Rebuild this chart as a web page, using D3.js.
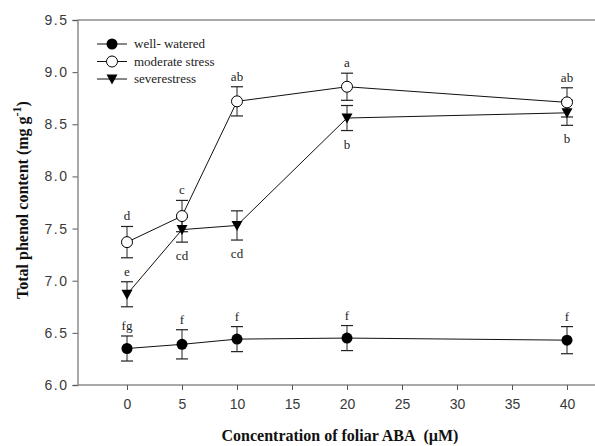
<!DOCTYPE html>
<html>
<head>
<meta charset="utf-8">
<script src="https://cdn.jsdelivr.net/npm/d3@7"></script>
<style>
  body { margin: 0; background: #fff; }
  svg { display: block; }
</style>
</head>
<body>
<svg id="chart"></svg>
<script>
// concentration of foliar ABA (uM)
const conc = [0, 5, 10, 20, 40]

const wellWatered = [6.35, 6.39, 6.44, 6.45, 6.43]
const wellErr = [0.12, 0.14, 0.12, 0.12, 0.13]
const wellLetters = ['fg', 'f', 'f', 'f', 'f']

const moderate = [7.37, 7.62, 8.72, 8.86, 8.71]
const moderateErr = [0.15, 0.15, 0.14, 0.13, 0.14]
const moderateLetters = ['d', 'c', 'ab', 'a', 'ab']

const severe = [6.87, 7.49, 7.53, 8.56, 8.61]
const severeErr = [0.12, 0.12, 0.14, 0.12, 0.12]
const severeLetters = ['e', 'cd', 'cd', 'b', 'b']
const severeLetterSide = ['up', 'down', 'down', 'down', 'down']

const xTicks = [0, 5, 10, 15, 20, 25, 30, 35, 40]
const yTicks = [6.0, 6.5, 7.0, 7.5, 8.0, 8.5, 9.0, 9.5]

const series = [
  { name: 'well- watered', values: wellWatered, err: wellErr, letters: wellLetters, side: conc.map(() => 'up'), marker: 'filled' },
  { name: 'moderate stress', values: moderate, err: moderateErr, letters: moderateLetters, side: conc.map(() => 'up'), marker: 'open' },
  { name: 'severestress', values: severe, err: severeErr, letters: severeLetters, side: severeLetterSide, marker: 'triangle' }
]

const W = 595
const H = 446
const serif = '"Liberation Serif", "Times New Roman", serif'
const sans = '"Liberation Sans", Arial, sans-serif'
const axisGray = '#8c8c8c'

const svg = d3.select('#chart').attr('width', W).attr('height', H)

const x = d3.scaleLinear().domain([-4.5, 43.5]).range([77.5, 605.5])
const y = d3.scaleLinear().domain([6, 9.5]).range([385, 20])

// frame: top line, left and bottom axes
svg.append('line')
  .attr('x1', x(-4.5)).attr('x2', W)
  .attr('y1', y(9.5)).attr('y2', y(9.5))
  .attr('stroke', axisGray).attr('stroke-width', 1.5)

const xAxis = svg.append('g')
  .attr('transform', `translate(0,${y(6)})`)
  .call(d3.axisBottom(x).tickValues(xTicks).tickSize(5).tickPadding(9).tickFormat(d3.format('d')))
xAxis.select('.domain').attr('stroke', axisGray).attr('stroke-width', 1.5)
  .attr('d', `M${x(-4.5)},0H${W}`) // figure is cropped at the right edge
xAxis.selectAll('.tick line').attr('stroke', '#555')
xAxis.selectAll('.tick text')
  .attr('font-family', sans).attr('font-size', 14).attr('fill', '#3a3a3a')

const yAxis = svg.append('g')
  .attr('transform', `translate(${x(-4.5)},0)`)
  .call(d3.axisLeft(y).tickValues(yTicks).tickSize(5).tickPadding(4).tickFormat(d3.format('.1f')))
yAxis.select('.domain').attr('stroke', axisGray).attr('stroke-width', 1.5)
yAxis.selectAll('.tick line').attr('stroke', '#555')
yAxis.selectAll('.tick text')
  .attr('font-family', sans).attr('font-size', 14).attr('fill', '#3a3a3a')
  .attr('letter-spacing', 1.5)

// axis titles
svg.append('text')
  .attr('x', 340).attr('y', 441)
  .attr('text-anchor', 'middle')
  .attr('font-family', serif).attr('font-weight', 'bold').attr('font-size', 16)
  .attr('fill', '#111')
  .text('Concentration of foliar ABA\u00a0\u00a0(\u00b5M)')

const yTitle = svg.append('text')
  .attr('transform', 'translate(27.5,200) rotate(-90)')
  .attr('text-anchor', 'middle')
  .attr('font-family', serif).attr('font-weight', 'bold').attr('font-size', 16)
  .attr('fill', '#111')
yTitle.append('tspan').text('Total phenol content (mg g')
yTitle.append('tspan').attr('dy', -7).attr('font-size', 12).text('-1')
yTitle.append('tspan').attr('dy', 7).text(')')

const line = d3.line()
  .x((d, i) => x(conc[i]))
  .y(d => y(d))

function drawMarker (g, type, cx, cy) {
  if (type === 'filled') {
    g.append('circle').attr('cx', cx).attr('cy', cy).attr('r', 5.5).attr('fill', '#000')
  } else if (type === 'open') {
    g.append('circle').attr('cx', cx).attr('cy', cy).attr('r', 5.5)
      .attr('fill', '#fff').attr('stroke', '#000').attr('stroke-width', 1)
  } else {
    g.append('path')
      .attr('transform', `translate(${cx},${cy})`)
      .attr('d', 'M-5.5,-4.5L5.5,-4.5L0,5.5Z')
      .attr('fill', '#000')
  }
}

const plot = svg.append('g')

// lines first
series.forEach(s => {
  plot.append('path')
    .datum(s.values)
    .attr('d', line)
    .attr('fill', 'none')
    .attr('stroke', '#111')
    .attr('stroke-width', 1)
})

// error bars
series.forEach(s => {
  s.values.forEach((v, i) => {
    const cx = x(conc[i])
    const top = y(v + s.err[i])
    const bot = y(v - s.err[i])
    plot.append('line').attr('x1', cx).attr('x2', cx).attr('y1', top).attr('y2', bot)
      .attr('stroke', '#222').attr('stroke-width', 1)
    ;[top, bot].forEach(yy => {
      plot.append('line').attr('x1', cx - 6).attr('x2', cx + 6).attr('y1', yy).attr('y2', yy)
        .attr('stroke', '#222').attr('stroke-width', 1.2)
    })
  })
})

// markers
series.forEach(s => {
  s.values.forEach((v, i) => drawMarker(plot, s.marker, x(conc[i]), y(v)))
})

// significance letters
series.forEach(s => {
  s.values.forEach((v, i) => {
    const cx = x(conc[i])
    const yy = s.side[i] === 'up' ? y(v + s.err[i]) - 6 : y(v - s.err[i]) + 18
    plot.append('text')
      .attr('x', cx).attr('y', yy)
      .attr('text-anchor', 'middle')
      .attr('font-family', serif).attr('font-size', 13)
      .attr('fill', '#222')
      .text(s.letters[i])
  })
})

// legend
const legend = svg.append('g')
series.forEach((s, i) => {
  const ly = 44 + i * 17.5
  const g = legend.append('g')
  g.append('line').attr('x1', 97).attr('x2', 127).attr('y1', ly).attr('y2', ly)
    .attr('stroke', '#111').attr('stroke-width', 1)
  drawMarker(g, s.marker, 112, ly)
  g.append('text')
    .attr('x', 134).attr('y', ly + 4)
    .attr('font-family', serif).attr('font-size', 13)
    .attr('fill', '#222')
    .text(s.name)
})
</script>
</body>
</html>
